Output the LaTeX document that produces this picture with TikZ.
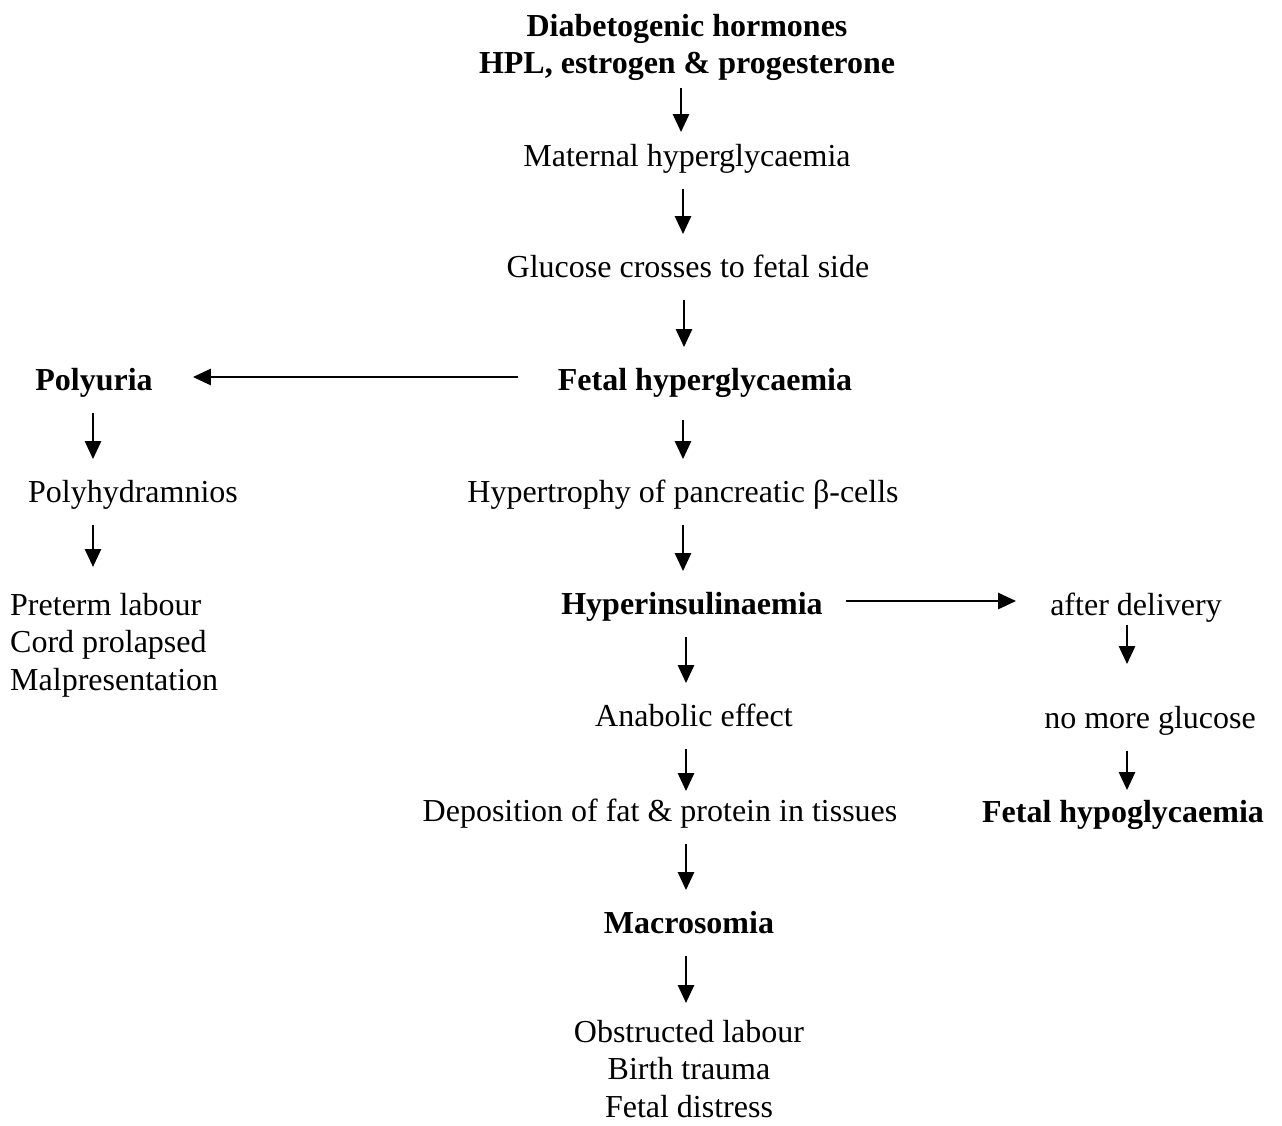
\documentclass[tikz,border=0pt]{standalone}
\usepackage{fontspec}
\setmainfont{Liberation Serif}
\usetikzlibrary{arrows.meta,calc}

\begin{document}
\begin{tikzpicture}[x=1pt,y=-1pt,
    every node/.style={font=\fontsize{32}{37.5}\selectfont,inner xsep=0pt,inner ysep=18pt},
    line/.style={text height=25.4pt,text depth=4pt},
    hl/.style={font=\fontsize{32}{37.5}\selectfont\bfseries},
    arr/.style={line width=2.7pt,-{Triangle[length=18pt,width=16pt]}}]

    % Fix the page size
    \useasboundingbox (0,0) rectangle (1282,1125);

    % Main column
    \node[hl,align=center,anchor=north] (hormones) at (687,-4) {Diabetogenic hormones\\HPL, estrogen \& progesterone};
    \node[line] (maternal) at (687,156) {Maternal hyperglycaemia};
    \node[line] (glucose) at (688,267) {Glucose crosses to fetal side};
    \node[line,hl] (fetalhyper) at (705,380) {Fetal hyperglycaemia};
    \node[line] (hypertrophy) at (683,492) {Hypertrophy of pancreatic β-cells};
    \node[line,hl] (hyperins) at (692,604) {Hyperinsulinaemia};
    \node[line] (anabolic) at (694,716) {Anabolic effect};
    \node[line] (deposition) at (660,811) {Deposition of fat \& protein in tissues};
    \node[line,hl] (macro) at (689,923) {Macrosomia};
    \node[align=center,anchor=north,inner ysep=0pt] (obstructed) at (689,1020) {Obstructed labour\\Birth trauma\\Fetal distress};

    % Left column
    \node[line,hl] (polyuria) at (94,380) {Polyuria};
    \node[line] (polyhyd) at (133,492) {Polyhydramnios};
    \node[align=left,anchor=north west] (preterm) at (10,575) {Preterm labour\\Cord prolapsed\\Malpresentation};

    % Right column
    \node[line] (delivery) at (1136,605) {after delivery};
    \node[line] (noglucose) at (1150,718) {no more glucose};
    \node[line,hl] (fetalhypo) at (1123,812) {Fetal hypoglycaemia};

    % Arrows
    \draw[arr,shorten <=-11pt,shorten >=-9pt] ([xshift=-6pt]hormones.south) -- ([xshift=-6pt]hormones.south |- maternal.north);
    \draw[arr] ([xshift=-4pt]maternal.south) -- ([xshift=-4pt]maternal.south |- glucose.north);
    \draw[arr] ([xshift=-4pt]glucose.south) -- ([xshift=-4pt]glucose.south |- fetalhyper.north);
    \draw[arr,shorten <=7pt] (hypertrophy.north |- fetalhyper.south) -- (hypertrophy.north);
    \draw[arr] (hypertrophy.south) -- (hypertrophy.south |- hyperins.north);
    \draw[arr] ([xshift=-3pt]macro.north |- hyperins.south) -- ([xshift=-3pt]macro.north |- anabolic.north);
    \draw[arr,shorten >=-13pt] ([xshift=-3pt]macro.north |- anabolic.south) -- ([xshift=-3pt]macro.north |- deposition.north);
    \draw[arr] ([xshift=-3pt]macro.north |- deposition.south) -- ([xshift=-3pt]macro.north);
    \draw[arr,shorten >=17pt] ([xshift=-3pt]macro.south) -- ([xshift=-3pt]macro.south |- obstructed.north);

    \draw[arr,shorten <=40pt,shorten >=40pt] ([yshift=3pt]fetalhyper.west) -- ([yshift=3pt]fetalhyper.west -| polyuria.east);
    \draw[arr] ([xshift=-1pt]polyuria.south) -- ([xshift=-1pt]polyuria.south |- polyhyd.north);
    \draw[arr,shorten >=8pt] ([xshift=-1pt]polyuria.south |- polyhyd.south) -- ([xshift=-1pt]polyuria.south |- preterm.north);

    \draw[arr,shorten <=23pt,shorten >=34pt] ([yshift=3pt]hyperins.east) -- ([yshift=3pt]hyperins.east -| delivery.west);
    \draw[arr,shorten <=-13pt,shorten >=21pt] ([xshift=4pt]fetalhypo.north |- delivery.south) -- ([xshift=4pt]fetalhypo.north |- noglucose.north);
    \draw[arr,shorten >=-11pt] ([xshift=4pt]fetalhypo.north |- noglucose.south) -- ([xshift=4pt]fetalhypo.north);

\end{tikzpicture}
\end{document}
